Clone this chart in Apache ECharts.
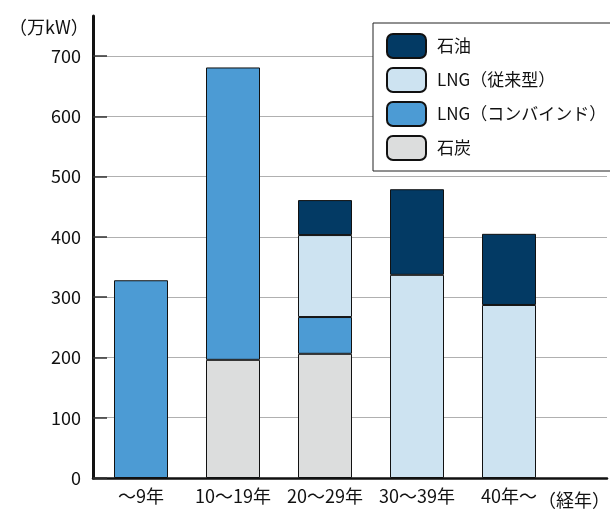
<!DOCTYPE html>
<html>
<head>
<meta charset="utf-8">
<script src="https://cdn.jsdelivr.net/npm/echarts@6/dist/echarts.min.js"></script>
<style>
  html, body { margin: 0; padding: 0; background: #fff; }
  #chart { width: 610px; height: 509px; }
</style>
</head>
<body>
<div id="chart"></div>
<script>
// Generating capacity by plant age (万kW), stacked by fuel type
const categories = ['～9年', '10～19年', '20～29年', '30～39年', '40年～'];
const coal     = [null, 196, 206, null, null];
const lngCombi = [328, 485, 61, null, null];
const lngConv  = [null, null, 136, 337, 287];
const oil      = [null, null, 58, 142, 118];
const yTicks = { min: 0, max: 700, interval: 100 };

const FONT = '"Noto Sans CJK JP", "Noto Sans", sans-serif';
const COLORS = {
  oil: '#033a64',
  lngConv: '#cde3f1',
  lngCombi: '#4c9bd4',
  coal: '#dcdddd'
};

const chart = echarts.init(document.getElementById('chart'), null, { renderer: 'canvas' });

function barSeries(name, data, color) {
  return {
    name: name,
    type: 'bar',
    stack: 'total',
    xAxisIndex: 2,
    yAxisIndex: 2,
    barWidth: 54,
    data: data,
    itemStyle: { color: color, borderColor: '#111', borderWidth: 1 }
  };
}

chart.setOption({
  animation: false,
  backgroundColor: '#fff',
  textStyle: { fontFamily: FONT },
  title: [
    { text: '（万kW）', left: 4, top: 13,
      textStyle: { fontFamily: FONT, fontSize: 18, fontWeight: 'normal', color: '#111' } },
    { text: '（経年）', left: 533, top: 486,
      textStyle: { fontFamily: FONT, fontSize: 18, fontWeight: 'normal', color: '#111' } }
  ],
  legend: {
    orient: 'vertical',
    left: 373, top: 23,
    padding: [10, 6, 10, 13],
    itemWidth: 39, itemHeight: 24, itemGap: 8,
    borderColor: '#222', borderWidth: 1,
    backgroundColor: '#fff',
    data: ['石油', 'LNG（従来型）', 'LNG（コンバインド）', '石炭'],
    textStyle: { fontFamily: FONT, fontSize: 17, color: '#111', padding: [0, 0, 0, 6] }
  },
  grid: [
    // gridlines, value labels and baseline
    { left: 93, right: 3, top: 56, bottom: 31 },
    // tall vertical axis line
    { left: 93, right: 3, top: 16, bottom: 31 },
    // bars
    { left: 95, width: 460, top: 56, bottom: 31 }
  ],
  xAxis: [
    { gridIndex: 0, type: 'category', data: [''],
      axisLine: { lineStyle: { color: '#111', width: 2.5 } },
      axisTick: { show: false }, axisLabel: { show: false } },
    { gridIndex: 1, type: 'category', data: [''], show: false },
    { gridIndex: 2, type: 'category', data: categories,
      axisLine: { show: false }, axisTick: { show: false },
      axisLabel: { fontFamily: FONT, fontSize: 18, color: '#111', margin: 9, interval: 0 } }
  ],
  yAxis: [
    { gridIndex: 0, type: 'value', min: yTicks.min, max: yTicks.max, interval: yTicks.interval,
      axisLine: { show: false },
      axisTick: { show: true, inside: true, length: 14, lineStyle: { color: '#333', width: 1.5 } },
      axisLabel: { fontFamily: FONT, fontSize: 18, color: '#111', margin: 12 },
      splitLine: { lineStyle: { color: '#b0b0b0', width: 1.2 } } },
    { gridIndex: 1, type: 'value', min: 0, max: 100,
      axisLine: { show: true, lineStyle: { color: '#111', width: 3 } },
      axisTick: { show: false }, axisLabel: { show: false }, splitLine: { show: false } },
    { gridIndex: 2, type: 'value', min: yTicks.min, max: yTicks.max, show: false,
      splitLine: { show: false } }
  ],
  series: [
    barSeries('石炭', coal, COLORS.coal),
    barSeries('LNG（コンバインド）', lngCombi, COLORS.lngCombi),
    barSeries('LNG（従来型）', lngConv, COLORS.lngConv),
    barSeries('石油', oil, COLORS.oil)
  ]
});
</script>
</body>
</html>
